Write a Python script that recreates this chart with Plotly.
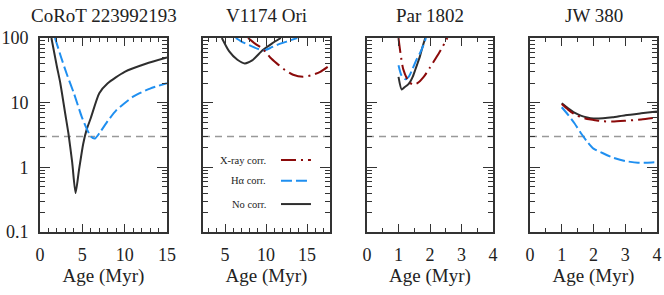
import plotly.graph_objects as go
from plotly.subplots import make_subplots

titles = ["CoRoT 223992193", "V1174 Ori", "Par 1802", "JW 380"]

# Panel 1: CoRoT 223992193
p1_none_x = [1.35, 2.0, 2.4, 3.0, 3.35, 3.8, 4.2, 4.6, 5.1, 5.5, 6.0, 7.0, 8.0, 10.0, 12.5, 15.0]
p1_none_y = [100, 36, 20, 6.5, 3.4, 1.2, 0.4, 0.9, 2.3, 3.8, 5.8, 14, 20, 30, 40, 50]
p1_ha_x = [1.77, 2.5, 3.15, 4.0, 4.9, 5.5, 6.0, 6.5, 7.1, 8.0, 9.0, 11.0, 13.0, 15.0]
p1_ha_y = [100, 50, 28, 14, 6.2, 4.0, 3.0, 2.8, 3.5, 5.2, 7.6, 12.4, 16.5, 20]

# Panel 2: V1174 Ori
p2_none_x = [4.6, 5.5, 6.5, 7.4, 8.3, 9.6, 10.7, 11.8]
p2_none_y = [100, 62, 46, 40.5, 45, 65, 82, 100]
p2_ha_x = [6.3, 7.0, 8.0, 9.0, 9.7, 10.5, 11.3, 12.5, 13.8]
p2_ha_y = [100, 88, 77, 68, 64, 70, 78, 88, 100]
p2_xr_x = [7.8, 8.7, 9.6, 10.5, 11.3, 12.3, 13.3, 14.5, 15.5, 16.6, 17.8]
p2_xr_y = [100, 81, 68, 50, 40.5, 32, 27, 25.2, 26.5, 30, 38]

# Panel 3: Par 1802
p3_none_x = [1.0, 1.1, 1.2, 1.3, 1.37, 1.45, 1.53, 1.6, 1.68, 1.76, 1.85]
p3_none_y = [25, 16, 17.5, 19, 21, 25, 32, 40, 52, 72, 100]
p3_ha_x = [1.0, 1.1, 1.22, 1.32, 1.42, 1.55, 1.68, 1.78, 1.87]
p3_ha_y = [38, 26, 23, 25, 31, 44, 58, 75, 100]
p3_xr_x = [1.0, 1.07, 1.15, 1.3, 1.45, 1.6, 1.8, 2.0, 2.3, 2.55]
p3_xr_y = [100, 55, 33, 22, 19, 20, 25, 35, 60, 100]

# Panel 4: JW 380
p4_none_x = [1.0, 1.2, 1.4, 1.6, 1.8, 2.0, 2.3, 2.6, 3.0, 3.5, 4.0]
p4_none_y = [9.8, 8.2, 7.0, 6.3, 5.9, 5.7, 5.75, 5.95, 6.4, 6.85, 7.3]
p4_ha_x = [1.0, 1.2, 1.4, 1.6, 1.8, 2.0, 2.3, 2.6, 3.0, 3.4, 3.7, 4.0]
p4_ha_y = [8.5, 6.5, 4.8, 3.4, 2.5, 1.95, 1.65, 1.42, 1.25, 1.18, 1.18, 1.2]
p4_xr_x = [1.0, 1.2, 1.4, 1.6, 1.8, 2.0, 2.3, 2.6, 3.0, 3.5, 4.0]
p4_xr_y = [9.5, 7.8, 6.6, 6.0, 5.6, 5.4, 5.15, 5.1, 5.25, 5.5, 5.9]

x_ranges = [[0, 15], [2.3, 17.8], [0, 4], [0, 4]]
x_dtick = [5, 5, 1, 1]
x_minor = [1, 1, 0.5, 0.5]
threshold = 3

legend_labels = ["X-ray corr.", "H\u03b1 corr.", "No corr."]

C_NONE = "#2e2e2e"
C_HA = "#1f8ff0"
C_XR = "#8b0a0a"
DASH_HA = "11px,4px"
DASH_XR = "15px,5px,2px,5px"

FONT = "Liberation Serif, serif"

fig = make_subplots(rows=1, cols=4, horizontal_spacing=0.0)

series = [
    [(p1_none_x, p1_none_y, "none"), (p1_ha_x, p1_ha_y, "ha")],
    [(p2_none_x, p2_none_y, "none"), (p2_ha_x, p2_ha_y, "ha"), (p2_xr_x, p2_xr_y, "xr")],
    [(p3_none_x, p3_none_y, "none"), (p3_ha_x, p3_ha_y, "ha"), (p3_xr_x, p3_xr_y, "xr")],
    [(p4_none_x, p4_none_y, "none"), (p4_ha_x, p4_ha_y, "ha"), (p4_xr_x, p4_xr_y, "xr")],
]
style = {
    "none": dict(color=C_NONE, width=2, dash="solid"),
    "ha": dict(color=C_HA, width=2, dash=DASH_HA),
    "xr": dict(color=C_XR, width=2, dash=DASH_XR),
}

for i, ser in enumerate(series):
    for xs, ys, k in ser:
        fig.add_trace(go.Scatter(x=xs, y=ys, mode="lines", line=dict(**style[k], shape="spline", smoothing=0.6),
                                 showlegend=False, cliponaxis=True, hoverinfo="skip"), row=1, col=i + 1)

W, H = 664, 295
ml, mr, mt, mb = 40, 7, 38, 63
pw = W - ml - mr
panels_px = [(40, 167), (203, 330), (367, 493), (530, 657)]
domains = [[(a - ml) / pw, (b - ml) / pw] for a, b in panels_px]

axis_col = "#333333"
minor_y = [d * 10 ** e for e in (-1, 0, 1) for d in range(2, 10)]

for i in range(4):
    xa = "xaxis" if i == 0 else f"xaxis{i+1}"
    ya = "yaxis" if i == 0 else f"yaxis{i+1}"
    fig.layout[xa].update(
        domain=domains[i], range=x_ranges[i], dtick=x_dtick[i], tick0=0, automargin=False,
        ticks="inside", ticklen=8, tickwidth=1.3, tickcolor=axis_col,
        showline=True, linecolor=axis_col, linewidth=1.7, mirror="ticks",
        showgrid=False, zeroline=False,
        minor=dict(dtick=x_minor[i], tick0=0, ticks="inside", ticklen=4, tickwidth=1.2, tickcolor=axis_col, showgrid=False),
        tickfont=dict(family=FONT, size=18, color="#222"),
        ticklabelstandoff=6,
        title=dict(text="Age (Myr)", font=dict(family=FONT, size=19, color="#222"), standoff=3),
    )
    fig.layout[ya].update(
        type="log", range=[-1, 2], tickvals=[0.1, 1, 10, 100], ticktext=["0.1", "1", "10", "100"],
        showticklabels=(i == 0), automargin=False,
        ticks="inside", ticklen=10, tickwidth=1.3, tickcolor=axis_col,
        showline=True, linecolor=axis_col, linewidth=1.7, mirror="ticks",
        showgrid=False, zeroline=False,
        minor=dict(tickvals=minor_y, ticks="inside", ticklen=5, tickwidth=1.2, tickcolor=axis_col, showgrid=False),
        tickfont=dict(family=FONT, size=18, color="#222"),
        ticklabelstandoff=6,
    )
    xref = "x" if i == 0 else f"x{i+1}"
    yref = "y" if i == 0 else f"y{i+1}"
    fig.add_shape(type="line", xref=f"{xref} domain", yref=yref, x0=0, x1=1, y0=threshold, y1=threshold,
                  line=dict(color="#999999", width=1.5, dash="7px,5px"), layer="below")
    fig.add_annotation(text=titles[i], xref=f"{xref} domain", yref="paper", x=0.5, y=1, yshift=23,
                       yanchor="middle", xanchor="center", showarrow=False,
                       font=dict(family=FONT, size=19, color="#222"))

# Legend inside panel 2
leg_y = [0.371, 0.264, 0.144]
leg_style = [style["xr"], style["ha"], style["none"]]
for lbl, yy, st in zip(legend_labels, leg_y, leg_style):
    fig.add_annotation(text=lbl, xref="x2 domain", yref="y2 domain", x=0.514, y=yy, xanchor="right",
                       yanchor="middle", showarrow=False, font=dict(family=FONT, size=10.5, color="#222"))
    fig.add_shape(type="line", xref="x2 domain", yref="y2 domain", x0=0.614, x1=0.85, y0=yy, y1=yy,
                  line=dict(color=st["color"], width=2, dash=st["dash"]))

fig.update_layout(
    width=W, height=H, margin=dict(l=ml, r=mr, t=mt, b=mb, autoexpand=False),
    plot_bgcolor="white", paper_bgcolor="white", showlegend=False,
    font=dict(family=FONT), hovermode=False,
)

fig.write_html("out.html", config={"displayModeBar": False},
               post_script="document.body.style.margin='0px';document.body.style.padding='0px';")
